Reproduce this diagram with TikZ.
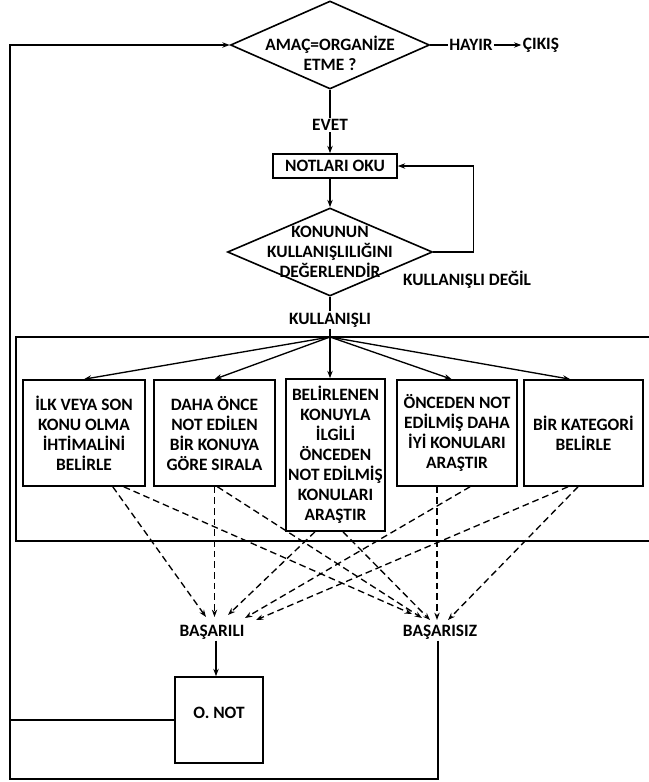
\documentclass[tikz,border=0pt]{standalone}
\usepackage{fontspec}
\setmainfont{Carlito}
\usetikzlibrary{shapes.geometric,arrows.meta,calc}
\begin{document}
\begin{tikzpicture}[x=0.75pt,y=-0.75pt,
  font=\fontsize{13}{15}\selectfont\bfseries,
  box/.style={draw, line width=1.2pt, inner sep=0pt, align=center},
  ln/.style={line width=1pt},
  arr/.style={ln, -{Stealth[length=5.5pt,width=4pt]}},
  dsh/.style={arr, dash pattern=on 5pt off 3pt},
  lbl/.style={inner sep=1pt, align=center}]
\useasboundingbox (0,0) rectangle (649,782);

% top decision
\node[box, diamond, minimum width={199*0.75pt}, minimum height={88*0.75pt}] (d1) at (330,45) {};
\node[lbl] (d1t) at (330,53) {AMAÇ=ORGANİZE\\ETME ?};
\node[lbl] (hayir) at (471,45) {HAYIR};
\node[lbl] (cikis) at (541,45) {ÇIKIŞ};
\draw[ln] (d1.east) -- (hayir.west);
\draw[arr] (hayir.east) -- (cikis.west);

\node[lbl] (evet) at (330,125) {EVET};
\draw[ln] (d1.south) -- (evet.north);

\node[box, minimum width={124*0.75pt}, minimum height={24*0.75pt}] (oku) at (335,166) {NOTLARI OKU};
\draw[arr] (evet.south) -- (evet.south |- oku.north);

% second decision
\node[box, diamond, minimum width={205*0.75pt}, minimum height={88*0.75pt}] (d2) at (330,252) {};
\node[lbl] (d2t) at (330,252) {KONUNUN\\KULLANIŞLILIĞINI\\DEĞERLENDİR};
\draw[arr] (oku.south -| d2.north) -- (d2.north);
\draw[arr] (d2.east) -- ++(40,0) |- (oku.east);
\node[lbl] (kd) at (467,280) {KULLANIŞLI DEĞİL};

\node[lbl] (kull) at (330,320) {KULLANIŞLI};
\draw[ln] (d2.south) -- (kull.north);
\coordinate (hub) at (330,337);
\draw[ln] (kull.south) -- (hub);

% frame
\draw[line width=1.2pt] (16,337) rectangle (656,541);

% five boxes
\node[box, minimum width={122*0.75pt}, minimum height={106*0.75pt}] (b1) at (84,433)
  {İLK VEYA SON\\KONU OLMA\\İHTİMALİNİ\\BELİRLE};
\node[box, minimum width={121*0.75pt}, minimum height={106*0.75pt}] (b2) at (214.5,433)
  {DAHA ÖNCE\\NOT EDİLEN\\BİR KONUYA\\GÖRE SIRALA};
\node[box, minimum width={99*0.75pt}, minimum height={152*0.75pt}] (b3) at (335.5,455)
  {BELİRLENEN\\KONUYLA\\İLGİLİ\\ÖNCEDEN\\NOT EDİLMİŞ\\KONULARI\\ARAŞTIR};
\node[box, minimum width={120*0.75pt}, minimum height={106*0.75pt}] (b4) at (457,433)
  {ÖNCEDEN NOT\\EDİLMİŞ DAHA\\İYİ KONULARI\\ARAŞTIR};
\node[box, minimum width={119*0.75pt}, minimum height={106*0.75pt}] (b5) at (583.5,433)
  {BİR KATEGORİ\\BELİRLE};

\draw[arr] (hub) -- (b1.north);
\draw[arr] (hub) -- (b2.north);
\draw[arr] (hub) -- (hub |- b3.north);
\draw[arr] (hub) -- ([xshift=-4pt]b4.north);
\draw[arr] (hub) -- ([xshift=-10pt]b5.north);

% outcomes
\node[lbl] (bsl) at (212,632) {BAŞARILI};
\node[lbl] (bsz) at (440,632) {BAŞARISIZ};

\coordinate (s1) at (206,617);
\coordinate (s2) at (214.5,617);
\coordinate (s3) at (228,615);
\coordinate (s4) at (245,618);
\coordinate (s5) at (256,620);
\coordinate (f1) at (412,614);
\coordinate (f2) at (422,618);
\coordinate (f3) at (430,620);
\coordinate (f4) at (437,620);
\coordinate (f5) at (448,620);

\draw[dsh] ($(b1.south east)+(-33,0)$) -- (s1);
\draw[dsh] ($(b1.south east)+(-22,0)$) -- (f1);
\draw[dsh] (b2.south) -- (s2);
\draw[dsh] ($(b2.south)+(3,0)$) -- (f2);
\draw[dsh] ($(b3.south)+(-20.5,0)$) -- (s3);
\draw[dsh] ($(b3.south)+(7.5,0)$) -- (f3);
\draw[dsh] ($(b4.south)+(-20,0)$) -- (f4);
\draw[dsh] ($(b4.south)+(13,0)$) -- (s4);
\draw[dsh] ($(b5.south)+(-15.5,0)$) -- (s5);
\draw[dsh] ($(b5.south)+(-5.5,0)$) -- (f5);

% result box and loops
\node[box, minimum width={88*0.75pt}, minimum height={86*0.75pt}] (onot) at (219,720) {};
\node[lbl] (onott) at (219,713) {O. NOT};
\draw[arr] ([xshift=3pt]bsl.south) -- ([xshift=3pt]bsl.south |- onot.north);

\coordinate (cl) at (10,779);
\coordinate (tl) at (10,45);
\draw[arr] ([xshift=-1.5pt]bsz.south) |- (cl) -- (tl) -- (d1.west);
\draw[ln] (onot.west) -- (onot.west -| cl);
\end{tikzpicture}
\end{document}
